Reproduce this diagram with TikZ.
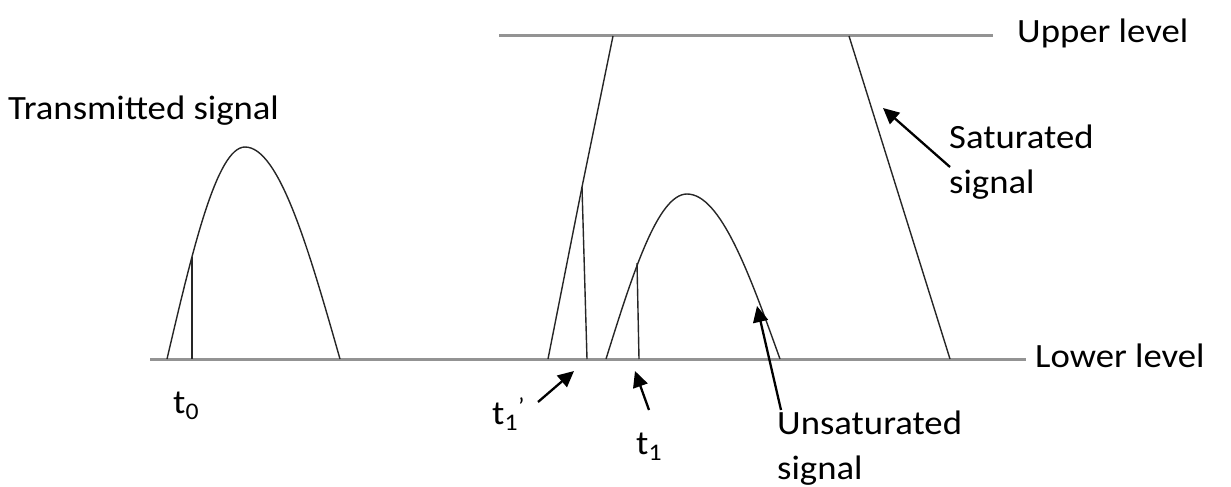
\documentclass[tikz,border=0pt]{standalone}
\usepackage{fontspec}
\setmainfont{Carlito}[FakeStretch=1.08]
\usepackage{tikz}
\usetikzlibrary{positioning, arrows.meta}
\tikzset{
    level line/.style={line width=3pt, draw=gray!85},
    signal line/.style={line width=1.4pt, draw=black!85},
    pointer/.style={-{Triangle[length=16pt, width=15pt]}, line width=2.3pt, draw=black},
    label text/.style={inner sep=0pt, font=\fontsize{34}{45}\selectfont, align=left},
}
\begin{document}
\begin{tikzpicture}[x=1pt, y=-1pt]
\useasboundingbox (0,0) rectangle (1231,487);
% levels
\coordinate (lowL) at (150,359);
\coordinate (lowR) at (1026,359);
\coordinate (upL) at (499,36);
\coordinate (upR) at (993,36);
\draw[level line] (lowL) -- (lowR);
\draw[level line] (upL) -- (upR);
\node[label text, anchor=base west] (upper) at (1017,43) {Upper level};
\node[label text, anchor=base west] (lower) at (1035,367) {Lower level};
% transmitted pulse
\node[label text, anchor=base west] (trans) at (8,119) {Transmitted signal};
\draw[signal line] (167,359) sin (245,147) cos (340,359);
\draw[signal line] (192,257) -- (192,359);
\node[label text, anchor=base west] (t0) at (173,413) {t\textsubscript{0}};
% saturated signal
\coordinate (satKnee) at (582,187);
\draw[signal line] (548,359) -- (satKnee) -- (613,36);
\draw[signal line] (satKnee) -- (587,359);
\draw[signal line] (849,36) -- (950,359);
\node[label text, anchor=base west] (satlab) at (949,193) {Saturated\\signal};
\coordinate (satTail) at (950,167);
\coordinate (satTip) at (883,108);
\draw[pointer] (satTail) -- (satTip);
% unsaturated pulse
\draw[signal line] (606,359) sin (687,194) cos (780,359);
\draw[signal line] (637,263) -- (639,359);
\node[label text, anchor=base west] (unsatlab) at (777,479) {Unsaturated\\signal};
\coordinate (unsatTail) at (781,410);
\coordinate (unsatTip) at (757,306);
\draw[pointer] (unsatTail) -- (unsatTip);
% time marks
\node[label text, anchor=base west] (t1p) at (492,424) {t\textsubscript{1}\textsuperscript{\textquoteright}};
\coordinate (t1pTail) at (538,402);
\coordinate (t1pTip) at (574,371);
\draw[pointer] (t1pTail) -- (t1pTip);
\node[label text, anchor=base west] (t1) at (636,454) {t\textsubscript{1}};
\coordinate (t1Tail) at (649,410);
\coordinate (t1Tip) at (635,371);
\draw[pointer] (t1Tail) -- (t1Tip);
\end{tikzpicture}
\end{document}
